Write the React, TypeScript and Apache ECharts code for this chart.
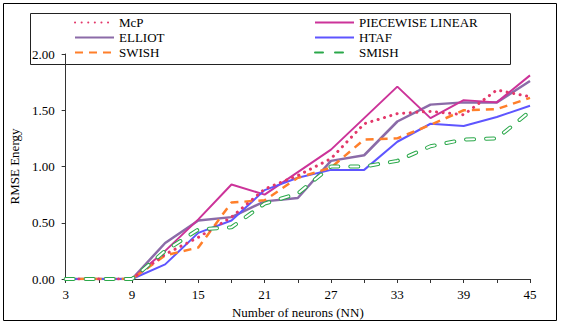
import React, { useEffect, useRef } from "react";
import * as echarts from "echarts";

const neurons = [3, 6, 9, 12, 15, 18, 21, 24, 27, 30, 33, 36, 39, 42, 45];
const mcp = [0, 0, 0, 0.22, 0.37, 0.55, 0.8, 0.92, 1.07, 1.38, 1.47, 1.49, 1.46, 1.68, 1.62];
const piecewise = [0, 0, 0, 0.25, 0.53, 0.84, 0.75, 0.95, 1.15, 1.43, 1.71, 1.43, 1.59, 1.57, 1.81];
const elliot = [0, 0, 0, 0.32, 0.52, 0.55, 0.69, 0.72, 1.05, 1.1, 1.4, 1.55, 1.57, 1.57, 1.76];
const htaf = [0, 0, 0, 0.13, 0.41, 0.52, 0.79, 0.9, 0.97, 0.97, 1.22, 1.38, 1.36, 1.44, 1.54];
const swish = [0, 0, 0, 0.21, 0.28, 0.68, 0.7, 0.9, 0.99, 1.24, 1.25, 1.37, 1.5, 1.51, 1.61];
const smish = [0, 0, 0, 0.25, 0.44, 0.46, 0.67, 0.76, 1.0, 1.0, 1.05, 1.18, 1.24, 1.25, 1.49];

const FONT = "Liberation Serif, Times New Roman, serif";

const pairs = (ys: number[]) => neurons.map((x, i) => [x, ys[i]]);

export default function App() {
  const ref = useRef<HTMLDivElement>(null);
  useEffect(() => {
    if (!ref.current) return;
    const chart = echarts.init(ref.current, null, { renderer: "svg" });
    const base = { type: "line", symbol: "none", showSymbol: false };
    const legendCommon = {
      orient: "vertical",
      padding: 0,
      itemWidth: 39,
      itemHeight: 12,
      itemGap: 2,
      top: 16,
      itemStyle: { opacity: 0, color: "transparent", borderWidth: 0 },
      textStyle: { fontFamily: FONT, fontSize: 13, color: "#000" },
    };
    chart.setOption({
      animation: false,
      backgroundColor: "#fff",
      textStyle: { fontFamily: FONT },
      grid: { left: 63, right: 31, top: 54, bottom: 46 },
      legend: [
        { ...legendCommon, data: ["McP", "ELLIOT", "SWISH"], left: 74 },
        { ...legendCommon, data: ["PIECEWISE LINEAR", "HTAF", "SMISH"], left: 314 },
      ],
      graphic: [
        {
          type: "rect",
          shape: { x: 3.5, y: 3.5, width: 553, height: 317 },
          style: { fill: "none", stroke: "#000", lineWidth: 1 },
          silent: true,
        },
        {
          type: "rect",
          shape: { x: 30.5, y: 13.5, width: 480, height: 51 },
          style: { fill: "none", stroke: "#222", lineWidth: 1 },
          silent: true,
        },
      ],
      xAxis: {
        type: "value",
        min: 3,
        max: 45,
        interval: 3,
        name: "Number of neurons (NN)",
        nameLocation: "middle",
        nameGap: 23,
        nameTextStyle: { fontFamily: FONT, fontSize: 13, color: "#000" },
        axisLine: { lineStyle: { color: "#333", width: 1 } },
        axisTick: { show: true, length: 4, lineStyle: { color: "#333" } },
        splitLine: { show: false },
        axisLabel: {
          fontFamily: FONT,
          fontSize: 13,
          color: "#000",
          margin: 9,
          formatter: (v: number) => ((v - 3) % 6 === 0 ? String(v) : ""),
        },
      },
      yAxis: {
        type: "value",
        min: 0,
        max: 2,
        interval: 0.5,
        name: "RMSE Energy",
        nameLocation: "middle",
        nameGap: 43,
        nameTextStyle: { fontFamily: FONT, fontSize: 13, color: "#000" },
        axisLine: { show: true, lineStyle: { color: "#333", width: 1 } },
        axisTick: { show: true, length: 4, lineStyle: { color: "#333" } },
        splitLine: { show: false },
        axisLabel: {
          fontFamily: FONT,
          fontSize: 13,
          color: "#000",
          margin: 11,
          formatter: (v: number) => v.toFixed(2),
        },
      },
      series: [
        {
          ...base,
          name: "ELLIOT",
          data: pairs(elliot),
          lineStyle: { color: "#8B6BA8", width: 2.5 },
          itemStyle: { color: "#8B6BA8" },
          z: 2,
        },
        {
          ...base,
          name: "PIECEWISE LINEAR",
          data: pairs(piecewise),
          lineStyle: { color: "#CC3399", width: 2 },
          itemStyle: { color: "#CC3399" },
          z: 3,
        },
        {
          ...base,
          name: "HTAF",
          data: pairs(htaf),
          lineStyle: { color: "#5E55FF", width: 2 },
          itemStyle: { color: "#5E55FF" },
          z: 3,
        },
        {
          ...base,
          name: "SWISH",
          data: pairs(swish),
          lineStyle: { color: "#FF7F2A", width: 2.5, type: [8, 6] },
          itemStyle: { color: "#FF7F2A" },
          z: 4,
        },
        {
          ...base,
          name: "McP",
          data: pairs(mcp),
          lineStyle: { color: "#E3386A", width: 3, type: [0.1, 6.5], cap: "round" },
          itemStyle: { color: "#E3386A" },
          z: 5,
        },
        {
          ...base,
          name: "SMISH",
          data: pairs(smish),
          lineStyle: { color: "#2AA84A", width: 4, type: [8, 12], cap: "round" },
          itemStyle: { color: "#2AA84A" },
          z: 6,
        },
        {
          ...base,
          name: "SMISH_inner",
          data: pairs(smish),
          lineStyle: { color: "#ffffff", width: 2, type: [8, 12], cap: "round" },
          itemStyle: { color: "#ffffff" },
          z: 7,
        },
      ],
    });
    return () => chart.dispose();
  }, []);
  return (
    <div
      ref={ref}
      style={{ position: "fixed", left: 0, top: 0, width: 561, height: 325 }}
    />
  );
}
